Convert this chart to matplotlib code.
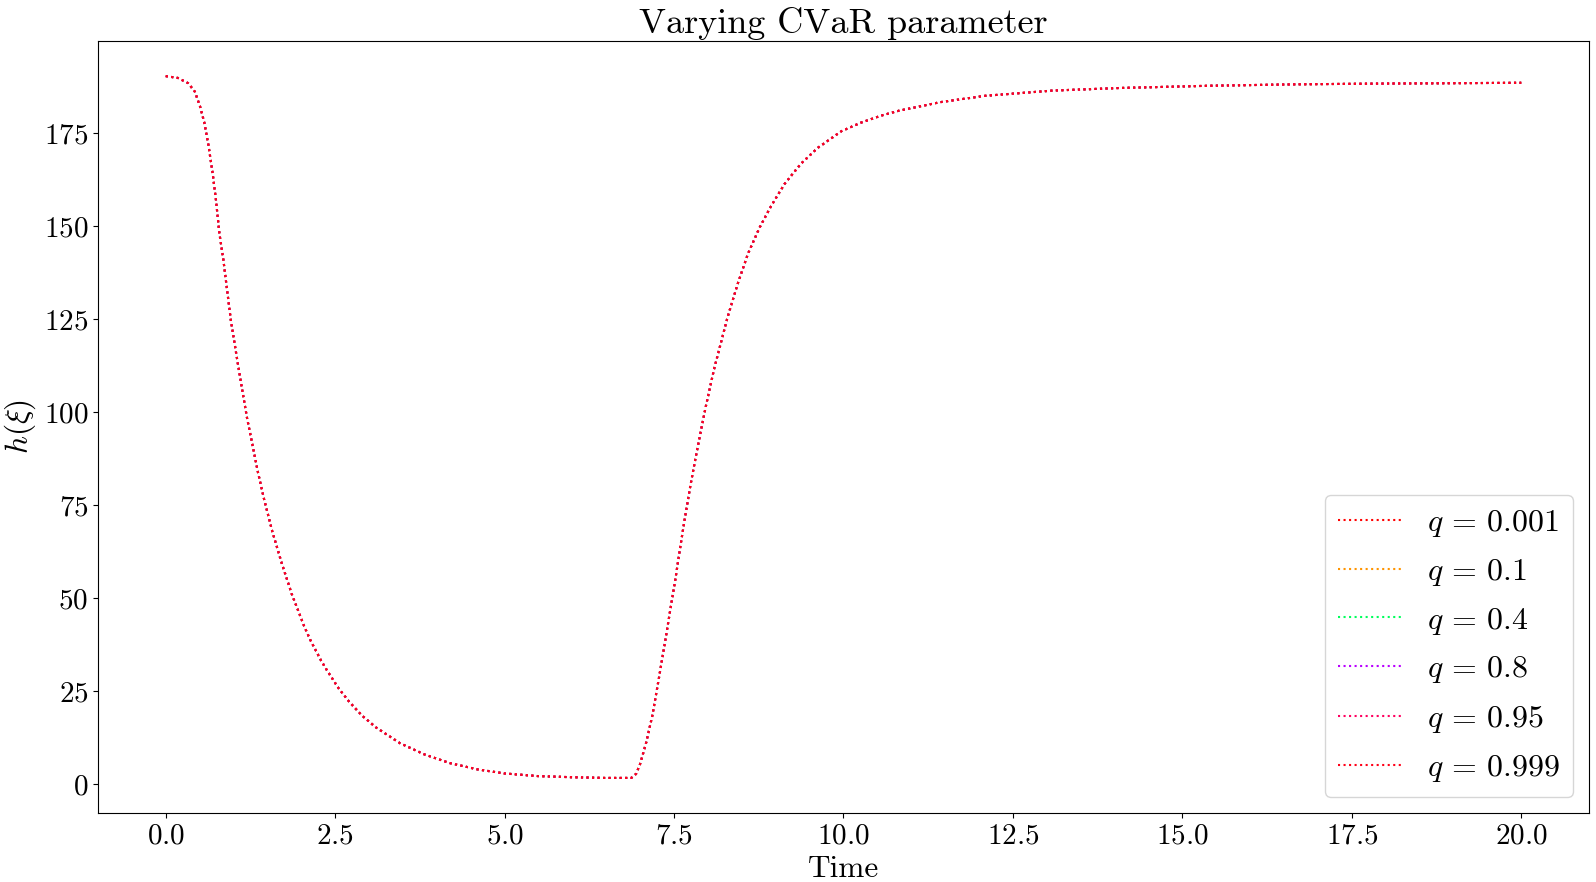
import numpy as np
import matplotlib
matplotlib.use('Agg')
import matplotlib.pyplot as plt

plt.rcParams['font.family'] = 'serif'
plt.rcParams['font.serif'] = ['cmr10']
plt.rcParams['mathtext.fontset'] = 'cm'
plt.rcParams['axes.formatter.use_mathtext'] = True

# CVaR levels shown in the legend
q_values = [0.001, 0.1, 0.4, 0.8, 0.95, 0.999]

# h(xi) trajectory (all q curves overlap)
time = [0.0, 0.18, 0.33, 0.43, 0.51, 0.57, 0.63, 0.69, 0.74, 0.79, 0.85, 0.90,
        0.96, 1.05, 1.13, 1.20, 1.28, 1.36, 1.45, 1.57, 1.71, 1.86, 2.04, 2.13,
        2.29, 2.38, 2.55, 2.71, 2.9, 3.1, 3.46, 3.82, 4.19, 4.60, 5.00, 5.49,
        5.98, 6.47, 6.87, 6.94, 7.00, 7.09, 7.18, 7.28, 7.37, 7.44, 7.52, 7.59,
        7.66, 7.74, 7.82, 7.90, 7.97, 8.09, 8.29, 8.44, 8.59, 8.76, 8.93, 9.13,
        9.37, 9.62, 9.97, 10.26, 10.56, 10.82, 11.43, 12.09, 13.08, 14.07,
        15.39, 16.71, 18.03, 20.0]
h_xi = [190.4, 189.9, 188.5, 186.2, 182.0, 177.8, 171.8, 164.5, 157.2, 148.3,
        141.0, 133.6, 124.8, 114.6, 105.8, 98.4, 91.2, 83.9, 76.7, 68.1, 59.5,
        51.1, 42.6, 38.9, 33.3, 30.6, 25.8, 22.1, 18.4, 15.3, 11.0, 8.0, 5.7,
        4.0, 2.9, 2.2, 1.9, 1.7, 1.7, 2.8, 5.5, 11.3, 18.5, 28.9, 38.6, 46.4,
        55.2, 63.6, 71.6, 80.2, 88.0, 95.4, 101.7, 111.6, 125.6, 134.6, 142.6,
        149.6, 155.4, 161.4, 166.8, 171.1, 175.6, 177.9, 179.8, 181.1, 183.4,
        185.1, 186.5, 187.2, 187.8, 188.2, 188.4, 188.6]

fig = plt.figure(figsize=(15.96, 8.82), dpi=100)
ax = fig.add_subplot(111)
for q in q_values:
    ax.plot(time, h_xi, ':', lw=1.5, color=plt.cm.hsv(q), label=r'$q\,=\,%s$' % q)

ax.set_title('Varying CVaR parameter', fontsize=26)
ax.set_xlabel('Time', fontsize=22.5)
ax.set_ylabel(r'$h(\xi)$', fontsize=22.5)
ax.tick_params(labelsize=21)
ax.legend(loc='lower right', fontsize=23, labelspacing=0.56)
fig.subplots_adjust(left=0.0614, right=0.9956, top=0.9535, bottom=0.0782)
fig.savefig('out.png', dpi=100)
